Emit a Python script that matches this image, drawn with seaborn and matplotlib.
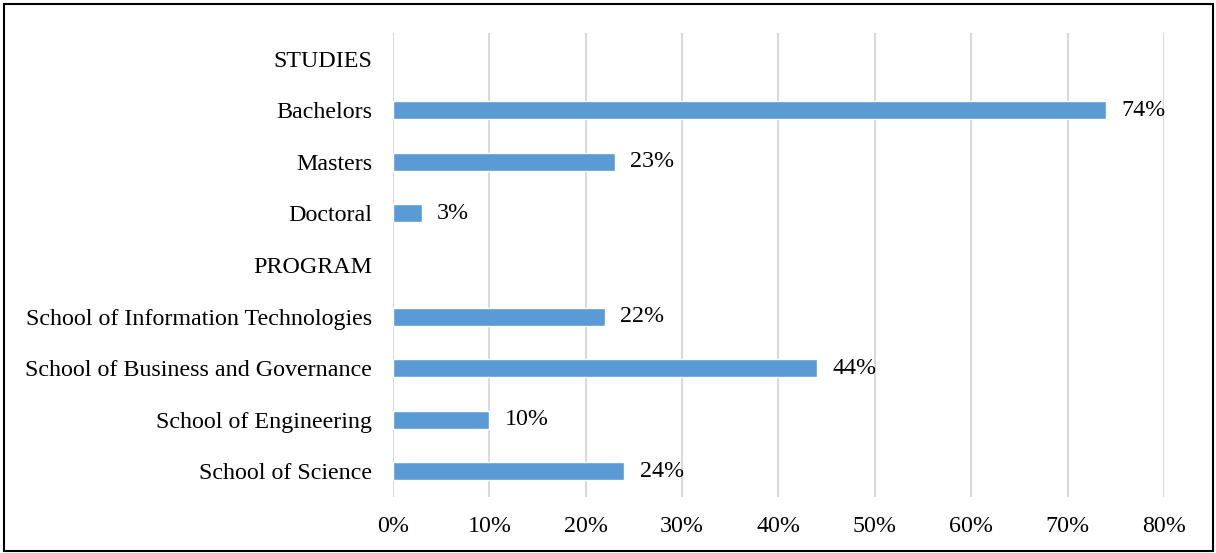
import matplotlib.pyplot as plt
import matplotlib.patches as mpatches
import matplotlib.ticker as mticker
import pandas as pd
import seaborn as sns

# Categories in display order (headers have no bar)
categories = [
    "STUDIES", "Bachelors", "Masters", "Doctoral",
    "PROGRAM", "School of Information Technologies",
    "School of Business and Governance", "School of Engineering",
    "School of Science",
]
bar_labels = [
    "Bachelors", "Masters", "Doctoral",
    "School of Information Technologies",
    "School of Business and Governance", "School of Engineering",
    "School of Science",
]
shares = [0.74, 0.23, 0.03, 0.22, 0.44, 0.10, 0.24]
x_ticks = [0.0, 0.1, 0.2, 0.3, 0.4, 0.5, 0.6, 0.7, 0.8]

sns.set_theme(style="white")
plt.rcParams["font.family"] = ["Liberation Serif", "DejaVu Serif"]

df = pd.DataFrame({"category": bar_labels, "share": shares})

fig = plt.figure(figsize=(12.16, 5.53), dpi=100)
ax = fig.add_axes([0.3232, 0.1013, 0.9572 - 0.3232, 0.9403 - 0.1013])

sns.barplot(data=df, y="category", x="share", order=categories,
            color="#5B9BD5", saturation=1, width=0.35, ax=ax, zorder=3)

bars = ax.containers[0]
ax.bar_label(bars, labels=[f"{b.get_width():.0%}" for b in bars],
             padding=11, fontsize=17.3, color="black")

ax.set_xlim(0, 0.8)
ax.set_ylim(len(categories) - 0.5, -0.5)
ax.set_xticks(x_ticks)
ax.xaxis.set_major_formatter(mticker.PercentFormatter(1.0, decimals=0))
ax.grid(axis="x", color="#d9d9d9", linewidth=1.5, zorder=0)
ax.grid(axis="y", visible=False)
ax.set_xlabel("")
ax.set_ylabel("")
ax.tick_params(axis="both", length=0, labelsize=17.3, colors="black")
ax.tick_params(axis="x", pad=14)
ax.tick_params(axis="y", pad=15)
for s in ax.spines.values():
    s.set_visible(False)

# frame around the whole figure
fig.patches.append(mpatches.Rectangle((4 / 1216, 2 / 553), 1209 / 1216, 547 / 553,
                                      transform=fig.transFigure, fill=False,
                                      edgecolor="black", linewidth=1.5))

fig.savefig("out.png", dpi=100)
